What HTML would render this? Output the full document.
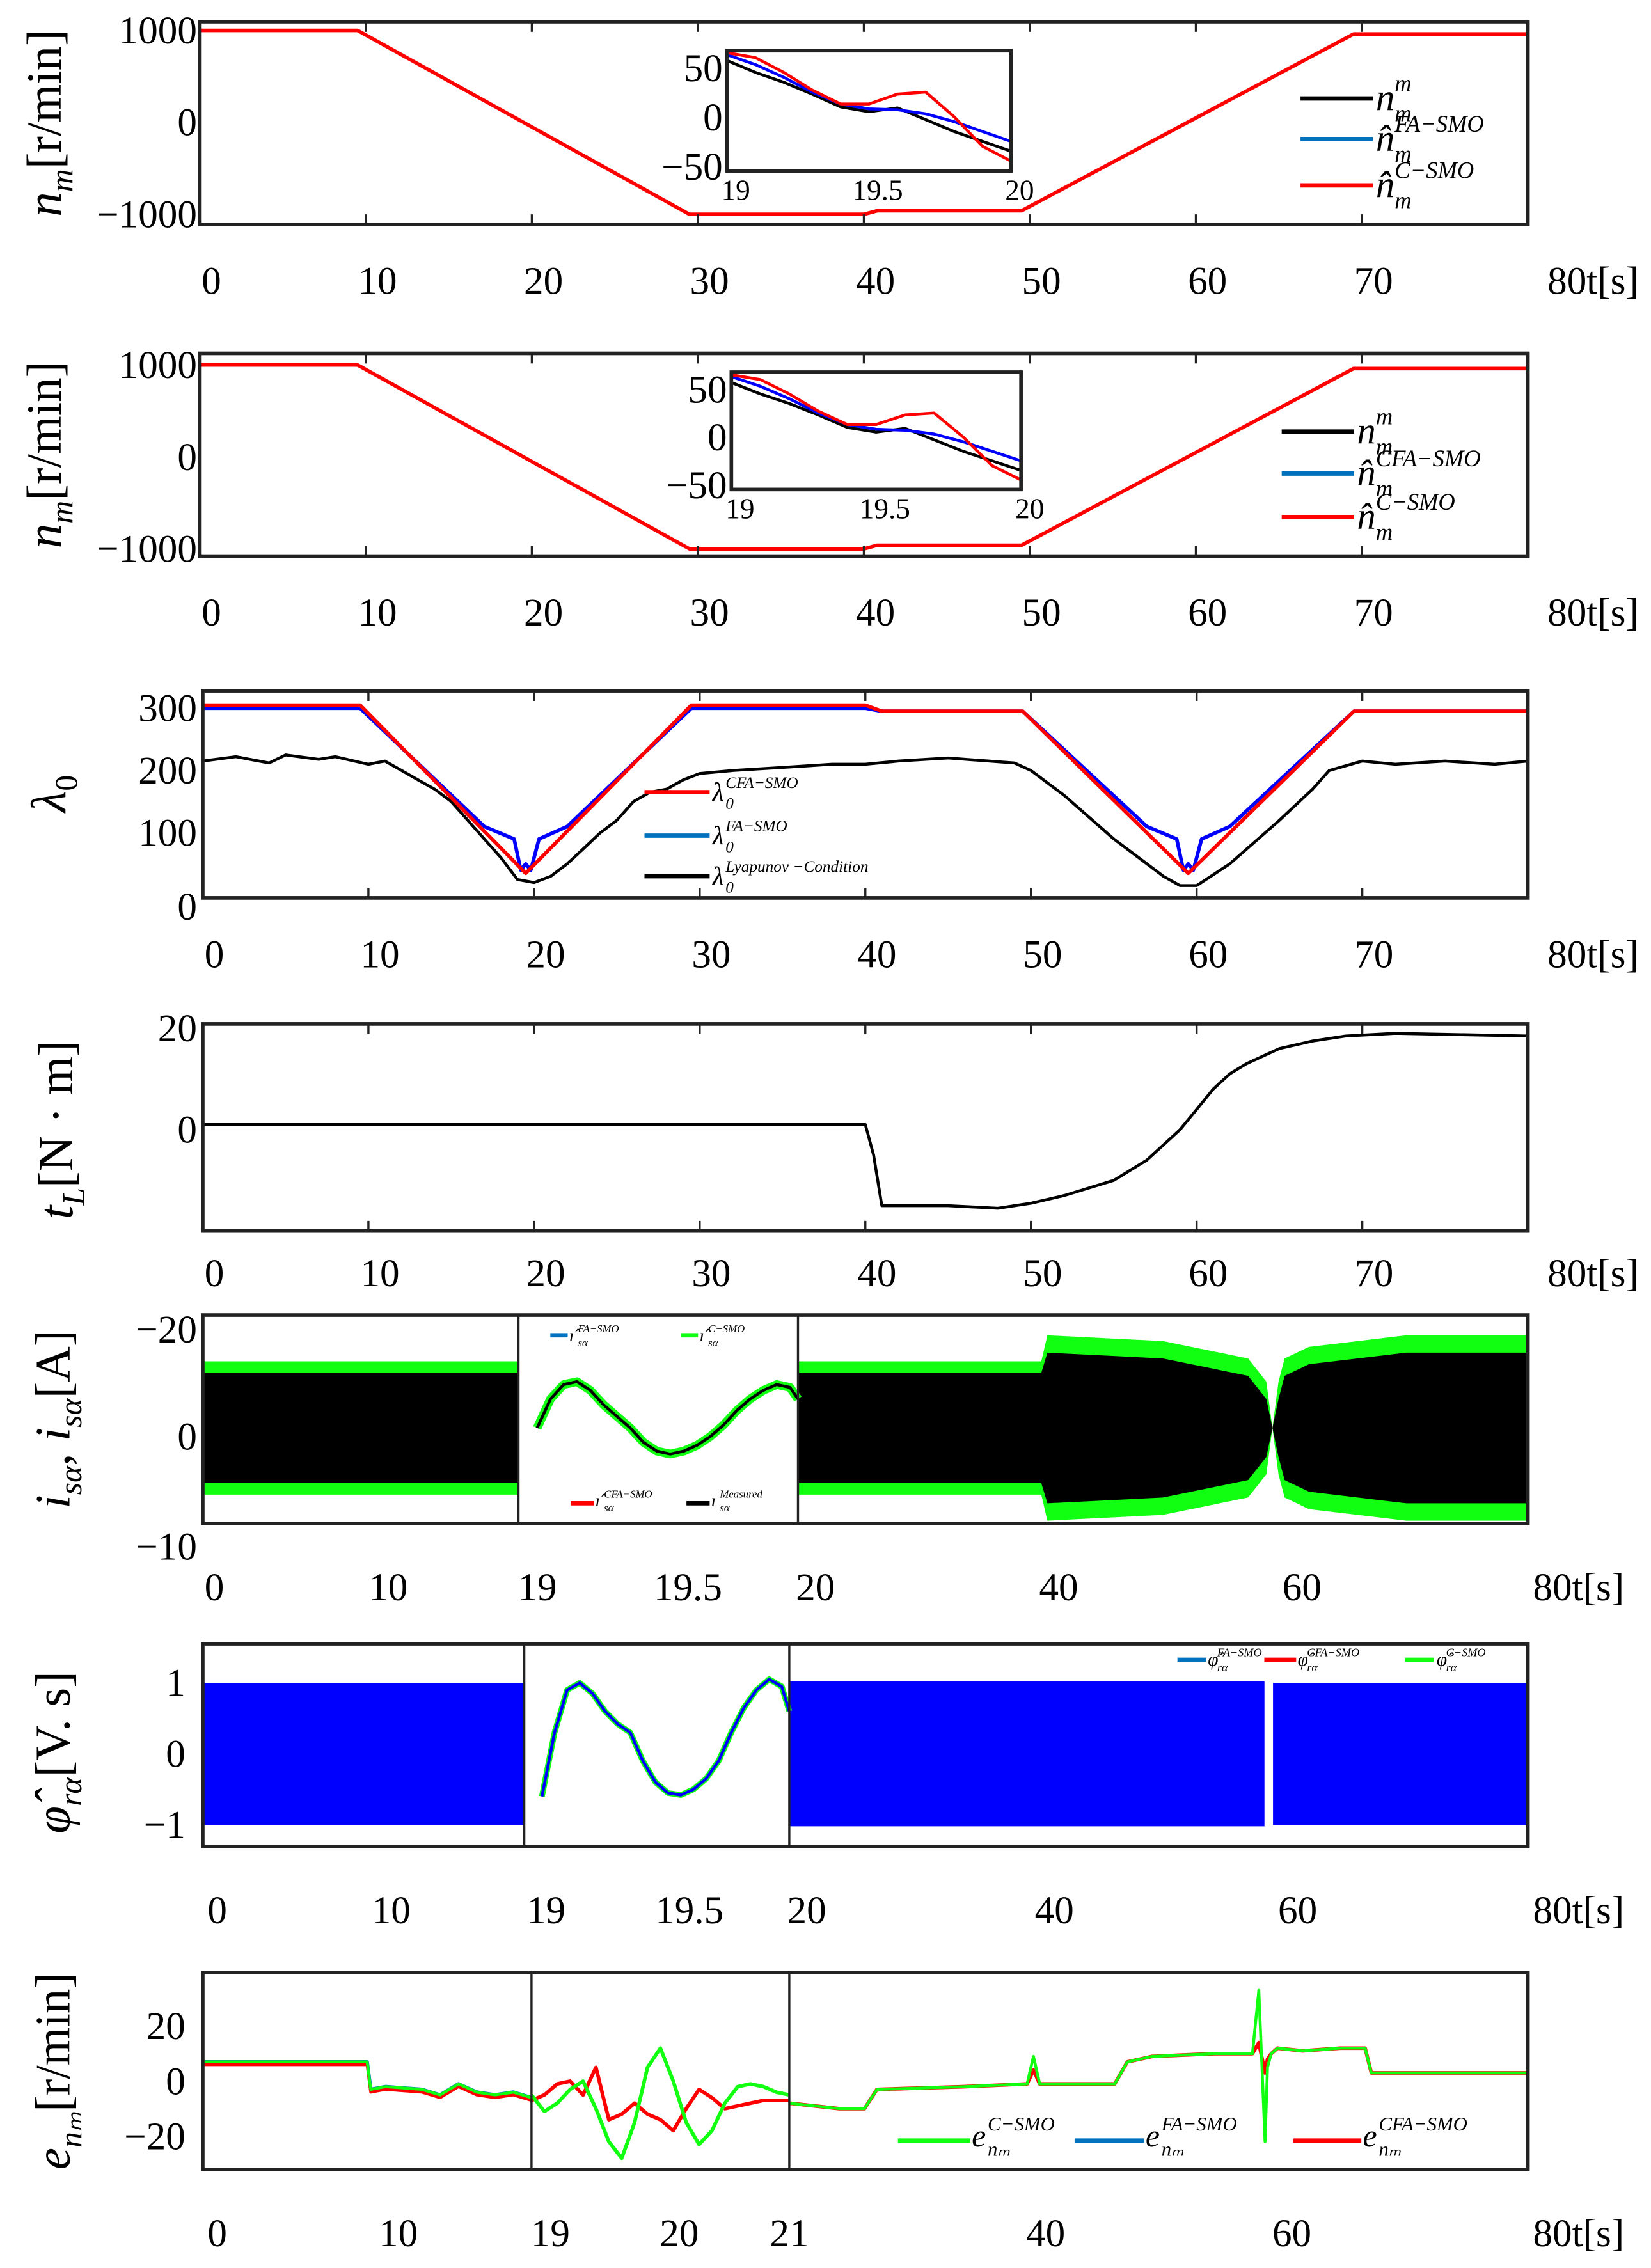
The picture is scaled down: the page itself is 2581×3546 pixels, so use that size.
<!DOCTYPE html>
<html><head><meta charset="utf-8"><style>
html,body{margin:0;padding:0;background:#fff}
svg{display:block}
text{font-family:"Liberation Serif",serif;fill:#000}
</style></head><body>
<svg id="fig" xmlns="http://www.w3.org/2000/svg" width="2581" height="3546" viewBox="0 0 1140 1566" preserveAspectRatio="none">
<g id="g"></g>
</svg>
<script>
// ---- data ----
const p1T=[0,9.5,29.5,40,40.8,49.5,69.5,80];
const p1N=[1000,1000,-1000,-1000,-960,-960,960,960];
const insT=[19,19.1,19.2,19.3,19.4,19.5,19.6,19.7,19.8,19.9,20];
const insBlack=[62,50,40,28,15,10,14,2,-10,-20,-30];
const insBlue=[68,58,45,30,18,13,12,8,0,-10,-20];
const insRed=[70,65,50,32,18,18,28,30,5,-25,-40];
const lamRedT=[0,9.5,19.5,29.5,40,41,49.5,59.5,69.5,80];
const lamRed=[305,305,35,305,305,295,295,35,295,295];
const lamBlueT=[0,9.5,17,18.8,19.2,19.5,19.8,20.3,22,29.5,40,41,49.5,57,58.8,59.2,59.5,59.8,60.3,62,69.5,80];
const lamBlue=[300,300,110,90,40,50,40,90,110,300,300,295,295,110,90,40,50,40,90,110,295,295];
const lamBlackT=[0,2,4,5,7,8,10,11,12,13,14,15,16,17,18,19,20,21,22,23,24,25,26,27,28,29,30,32,35,38,40,42,45,49,50,52,55,58,59,60,62,65,67,68,70,72,75,78,80];
const lamBlack=[215,222,212,225,218,222,210,215,200,185,170,150,120,90,60,25,20,30,50,75,100,120,150,165,170,185,195,200,205,210,210,215,220,212,200,160,90,30,15,15,50,120,170,200,215,210,215,210,215];
const tqT=[0,40,40.5,41,45,48,50,52,55,57,58,59,60,61,62,63,65,67,69,72,80];
const tq=[1,1,-5,-15,-15,-15.5,-14.5,-13,-10,-6,-3,0,4,8,11,13,16,17.5,18.5,19,18.5];
const curAmpT=[20,40,40.5,50,57,58.5,59,59.5,60,62,70,80];
const curAmpBlack=[9.5,9.5,13,12,9,5,0,5,9,11,13,13];
const curAmpGreen=[11.5,11.5,16,15,12,8,0,8,12,14,16,16];
const curMidT=[19,19.05,19.1,19.15,19.2,19.25,19.3,19.35,19.4,19.45,19.5,19.55,19.6,19.65,19.7,19.75,19.8,19.85,19.9,19.95,19.98];
const curMid=[0,5,7.5,8,6.5,4,2,0,-2.5,-4,-4.5,-4,-3,-1.5,0.5,3,5,6.5,7.5,7,5];
const fluxMidT=[19,19.05,19.1,19.15,19.2,19.25,19.3,19.35,19.4,19.45,19.5,19.55,19.6,19.65,19.7,19.75,19.8,19.85,19.9,19.95,19.98];
const fluxMid=[-0.6,0.3,0.9,1.0,0.85,0.6,0.42,0.3,-0.1,-0.4,-0.55,-0.58,-0.5,-0.35,-0.1,0.3,0.65,0.9,1.05,0.95,0.6];
const errS1T=[0,9,9.2,10,12,13,14,15,16,17,18];
const errS1=[7,7,-3,-2,-3,-5,-1,-4,-5,-4,-6];
const errS2T=[19,19.1,19.2,19.3,19.4,19.5,19.6,19.7,19.8,19.9,20,20.1,20.2,20.3,20.4,20.5,20.6,20.7,20.8,20.9,21];
const errS2Green=[-5,-11,-8,-3,0,-10,-22,-28,-15,5,12,0,-15,-23,-18,-8,-2,-1,-2,-4,-5];
const errS2Red=[-7,-5,-1,0,-5,5,-14,-12,-8,-12,-14,-18,-10,-3,-6,-10,-9,-8,-7,-7,-7];
const errS3T=[21,25,27,28,35,40,40.5,41,45,47,48,50,55,58,58.5,59,59.2,59.5,60,62,65,67,67.5,70,80];
const errS3Green=[-8,-10,-10,-3,-2,-1,9,-1,-1,-1,7,9,10,10,33,-22,5,10,12,11,12,12,3,3,3];
const errS3Red=[-8,-10,-10,-3,-2,-1,4,-1,-1,-1,7,9,10,10,14,3,8,10,12,11,12,12,3,3,3];

// ---- helpers ----
const NS="http://www.w3.org/2000/svg";const G=document.getElementById('g');
function el(tag,a,parent){const e=document.createElementNS(NS,tag);for(const k in a)e.setAttribute(k,a[k]);(parent||G).appendChild(e);return e;}
function sc(d0,d1,r0,r1){return v=>r0+(v-d0)/(d1-d0)*(r1-r0);}
function line(xs,ys,X,Y,color,w,name){
 const pts=xs.map((t,i)=>X(t).toFixed(1)+','+Y(ys[i]).toFixed(1)).join(' ');
 const p=el('polyline',{points:pts,fill:'none',stroke:color,'stroke-width':w,'stroke-linejoin':'round'});
 
 return p;}
function band(xs,amps,X,Y,color,name){
 const top=xs.map((t,i)=>X(t).toFixed(1)+','+Y(amps[i]).toFixed(1));
 const bot=xs.map((t,i)=>X(t).toFixed(1)+','+Y(-amps[i]).toFixed(1)).reverse();
 const p=el('polygon',{points:top.concat(bot).join(' '),fill:color});
 
 return p;}
function txt(x,y,s,size,name,anchor){const t=el('text',{x:x,y:y,'font-size':size,'text-anchor':anchor||'middle'});t.textContent=s;
 
 return t;}
function box(x0,y0,x1,y1,name){const r=el('rect',{x:x0,y:y0,width:x1-x0,height:y1-y0,fill:'none',stroke:'#222','stroke-width':2.5});
 
 }
function vline(x,y0,y1,name,w){const l=el('line',{x1:x,x2:x,y1:y0,y2:y1,stroke:'#222','stroke-width':w||1.5});
 
 }
function xticks(labels,xs,y,yb,tick){labels.forEach((s,i)=>{txt(xs[i],y,s,27,'x-tick-label');
 if(tick)vline(xs[i],yb-7,yb,'x-tick');});}
function ylabels(labels,ys,x){labels.forEach((s,i)=>txt(x,ys[i]+9,s,27,'y-tick-label','end'));}
function ytitle(x,y,html,name){const t=el('text',{transform:`translate(${x},${y}) rotate(-90)`,'font-size':34,'text-anchor':'middle'});t.innerHTML=html;
 
 }
function legLine(x0,x1,y,c,name){const l=el('line',{x1:x0,x2:x1,y1:y,y2:y,stroke:c,'stroke-width':3});
 
 }
function legText(x,y,main,sup,sub,size,name){
 const g=el('g',{});
 
 
 const w=size*0.5*(main.length>1?1:1);
 const a=el('text',{x:x,y:y,'font-size':size,'font-style':'italic'},g);a.textContent=main;
 const b=el('text',{x:x+w,y:y-size*0.5,'font-size':size*0.62,'font-style':'italic'},g);b.textContent=sup;
 const c=el('text',{x:x+w,y:y+size*0.3,'font-size':size*0.62,'font-style':'italic'},g);c.textContent=sub;}

const tickVals=[0,10,20,30,40,50,60,70,80];
const tickLab=['0','10','20','30','40','50','60','70','80t[s]'];

// ---- panels 1 & 2: speed ----
function speedPanel(y0,y1,yTop,yBot,ins,leg,legName,pid){
 const X=sc(0,80,138,1055),Y=sc(1000,-1000,yTop,yBot);
 line(p1T,p1N,X,Y,'#000',2,pid+'-measured-speed');
 line(p1T,p1N,X,Y,'#0072bd',2,pid+'-fa-smo-speed');
 line(p1T,p1N,X,Y,'#f00',2.5,pid+'-c-smo-speed');
 box(138,y0,1055,y1,pid+'-axes');
 [10,20,30,40,50,60,70].forEach(v=>{vline(X(v),y1-7,y1,'x-tick');vline(X(v),y0,y0+7,'x-tick');});
 ylabels(['1000','0','\u22121000'],[Y(1000),Y(0),Y(-1000)],136);
 xticks(tickLab.map(s=>s),tickVals.map(v=>v==80?X(80)+45:X(v)+8),y1+48,y1,false);
 const IX=sc(19,20,ins[0],ins[1]),IY=sc(50,-50,ins[2]+15,ins[3]);
 el('rect',{x:ins[0],y:ins[2],width:ins[1]-ins[0],height:ins[3]-ins[2],fill:'#fff'});
 line(insT,insBlack,IX,IY,'#000',2,pid+'-inset-measured');
 line(insT,insBlue,IX,IY,'#00f',2,pid+'-inset-fa');
 line(insT,insRed,IX,IY,'#f00',2,pid+'-inset-c');
 box(ins[0],ins[2],ins[1],ins[3],pid+'-inset-axes');
 ylabels(['50','0','\u221250'],[IY(50),IY(0),IY(-50)].map(v=>v-3),ins[0]-3);
 [['19',19],['19.5',19.5],['20',20]].forEach(a=>txt(IX(a[1])+6,ins[3]+20,a[0],20,'inset-x-tick-label'));
 legLine(leg[0],leg[0]+50,leg[1],'#000',pid+'-legend-measured');
 legLine(leg[0],leg[0]+50,leg[2],'#0072bd',pid+'-legend-fa');
 legLine(leg[0],leg[0]+50,leg[3],'#f00',pid+'-legend-c');
 legText(leg[0]+52,leg[1]+8,'n','m','m',26,pid+'-legend-measured-label');
 legText(leg[0]+52,leg[2]+8,'n\u0302',legName,'m',26,pid+'-legend-fa-label');
 legText(leg[0]+52,leg[3]+8,'n\u0302','C\u2212SMO','m',26,pid+'-legend-c-label');
 ytitle(42,(y0+y1)/2,'<tspan font-style="italic">n</tspan><tspan font-size="22" font-style="italic" dy="8">m</tspan><tspan dy="-8">[r/min]</tspan>',pid+'-y-axis-title');
}
speedPanel(15,155,21,148,[502,698,35,118],[898,68,96,128],'FA\u2212SMO','speed1');
speedPanel(244,384,252,379,[505,705,257,338],[885,298,327,357],'CFA\u2212SMO','speed2');

// ---- panel 3: lambda ----
(function(){
 const X=sc(0,80,140,1055),Y=sc(0,300,618,489);
 line(lamBlackT,lamBlack,X,Y,'#000',2,'lambda-lyapunov');
 line(lamBlueT,lamBlue,X,Y,'#00f',2.5,'lambda-fa-smo');
 line(lamRedT,lamRed,X,Y,'#f00',2.5,'lambda-cfa-smo');
 box(140,477,1055,620,'lambda-axes');
 [10,20,30,40,50,60,70].forEach(v=>{vline(X(v),613,620,'x-tick');vline(X(v),477,484,'x-tick');});
 ylabels(['300','200','100','0'],[Y(300),Y(200),Y(100),Y(0)+8],136);
 xticks(tickLab,tickVals.map(v=>v==80?X(80)+45:X(v)+8),668,620,false);
 legLine(445,490,547,'#f00','legend-cfa');legLine(445,490,577,'#0072bd','legend-fa');legLine(445,490,605,'#000','legend-lyapunov');
 legText(492,553,'\u03bb','CFA\u2212SMO','0',18,'legend-cfa-label');
 legText(492,583,'\u03bb','FA\u2212SMO','0',18,'legend-fa-label');
 legText(492,611,'\u03bb','Lyapunov \u2212Condition','0',18,'legend-lyapunov-label');
 ytitle(45,548,'<tspan font-style="italic">\u03bb</tspan><tspan font-size="22" dy="8">0</tspan>','lambda-y-axis-title');
})();

// ---- panel 4: torque ----
(function(){
 const X=sc(0,80,140,1055),Y=sc(0,20,780,710);
 line(tqT,tq,X,Y,'#000',2,'load-torque');
 box(140,707,1055,850,'torque-axes');
 [10,20,30,40,50,60,70].forEach(v=>{vline(X(v),843,850,'x-tick');vline(X(v),707,714,'x-tick');});
 ylabels(['20','0'],[Y(20),Y(0)],136);
 xticks(tickLab,tickVals.map(v=>v==80?X(80)+45:X(v)+8),888,850,false);
 ytitle(50,780,'<tspan font-style="italic">t</tspan><tspan font-size="22" font-style="italic" dy="8">L</tspan><tspan dy="-8">[N \u00b7 m]</tspan>','torque-y-axis-title');
})();

// ---- panel 5: current ----
(function(){
 const Y=v=>986-v*4;
 const X1=sc(0,18.2,140,358),X2=sc(18.93,19.98,358,551),X3=sc(20,80,551,1055);
 band([0,18.2],[11.5,11.5],X1,Y,'#1f1','current-seg1-green');
 band([0,18.2],[9.5,9.5],X1,Y,'#000','current-seg1-measured');
 band(curAmpT,curAmpGreen,X3,Y,'#1f1','current-seg3-green');
 band(curAmpT,curAmpBlack,X3,Y,'#000','current-seg3-measured');
 line(curMidT,curMid,X2,Y,'#1f1',6,'current-mid-green');
 line(curMidT,curMid,X2,Y,'#000',2,'current-mid-measured');
 box(140,908,1055,1052,'current-axes');vline(358,908,1052,'divider');vline(551,908,1052,'divider');
 ylabels(['\u221220','0','\u221210'],[918,992,1068],136);
 [['0',148],['10',268],['19',371],['19.5',475],['20',563],['40',731],['60',899]].forEach(a=>txt(a[1],1105,a[0],27,'x-tick-label'));
 txt(1090,1105,'80t[s]',27,'x-tick-label');
 legLine(380,392,922,'#0072bd','legend-fa');legLine(470,482,922,'#1f1','legend-c');
 legText(393,926,'\u0131\u0302','FA\u2212SMO','s\u03b1',12,'legend-fa-label');
 legText(483,926,'\u0131\u0302','C\u2212SMO','s\u03b1',12,'legend-c-label');
 legLine(394,410,1038,'#f00','legend-cfa');legLine(474,490,1038,'#000','legend-measured');
 legText(411,1040,'\u0131\u0302','CFA\u2212SMO','s\u03b1',12,'legend-cfa-label');
 legText(491,1040,'\u0131','Measured','s\u03b1',12,'legend-measured-label');
 ytitle(48,980,'<tspan font-style="italic">i</tspan><tspan font-size="22" font-style="italic" dy="8">s\u03b1</tspan><tspan dy="-8">, </tspan><tspan font-style="italic">i</tspan><tspan font-size="22" font-style="italic" dy="8">s\u03b1</tspan><tspan dy="-8">[A]</tspan>','current-y-axis-title');
})();

// ---- panel 6: flux ----
(function(){
 const Y=v=>1211-v*49;
 const X1=sc(0,18.2,140,362),X2=sc(18.93,19.98,362,545),X3=sc(20,80,545,1055);
 band([0,18.2],[1.0,1.0],X1,Y,'#00f','flux-seg1');
 band([20,58.5,58.6],[1.02,1.02,1.02],X3,Y,'#00f','flux-seg3a');
 band([59.3,80],[1.0,1.0],X3,Y,'#00f','flux-seg3b');
 line(fluxMidT,fluxMid,X2,Y,'#1f1',4,'flux-mid-green');
 line(fluxMidT,fluxMid,X2,Y,'#00f',2,'flux-mid-fa');
 box(140,1135,1055,1275,'flux-axes');vline(362,1135,1275,'divider');vline(545,1135,1275,'divider');
 ylabels(['1','0','\u22121'],[Y(1),Y(0),Y(-1)],128);
 [['0',150],['10',270],['19',377],['19.5',476],['20',557],['40',728],['60',896]].forEach(a=>txt(a[1],1328,a[0],27,'x-tick-label'));
 txt(1090,1328,'80t[s]',27,'x-tick-label');
 legLine(813,833,1146,'#0072bd','legend-fa');legLine(873,895,1146,'#f00','legend-cfa');legLine(970,990,1146,'#1f1','legend-c');
 legText(834,1150,'\u03c6\u0302','FA\u2212SMO','r\u03b1',13,'legend-fa-label');
 legText(896,1150,'\u03c6\u0302','CFA\u2212SMO','r\u03b1',13,'legend-cfa-label');
 legText(992,1150,'\u03c6\u0302','C\u2212SMO','r\u03b1',13,'legend-c-label');
 ytitle(48,1210,'<tspan font-style="italic">\u03c6\u0302</tspan><tspan font-size="22" font-style="italic" dy="8">r\u03b1</tspan><tspan dy="-8">[V. s]</tspan>','flux-y-axis-title');
})();

// ---- panel 7: speed error ----
(function(){
 const Y=v=>1437-v*1.9;
 const X1=sc(0,18,140,367),X2=sc(19,21,367,545),X3=sc(21,80,545,1055);
 line(errS1T,errS1,X1,Y,'#0072bd',2.5,'error-seg1-fa');
 line(errS1T,errS1.map(v=>v-1),X1,Y,'#f00',2,'error-seg1-cfa');
 line(errS1T,errS1,X1,Y,'#1f1',2,'error-seg1-c');
 line(errS2T,errS2Red,X2,Y,'#f00',2.5,'error-seg2-cfa');
 line(errS2T,errS2Green,X2,Y,'#1f1',2.5,'error-seg2-c');
 line(errS3T,errS3Red,X3,Y,'#f00',2.5,'error-seg3-cfa');
 line(errS3T,errS3Green,X3,Y,'#1f1',2,'error-seg3-c');
 box(140,1362,1055,1498,'error-axes');vline(367,1362,1498,'divider');vline(545,1362,1498,'divider');
 ylabels(['20','0','\u221220'],[Y(20),Y(0),Y(-20)],128);
 [['0',150],['10',275],['19',380],['20',469],['21',545],['40',722],['60',892]].forEach(a=>txt(a[1],1551,a[0],27,'x-tick-label'));
 txt(1090,1551,'80t[s]',27,'x-tick-label');
 legLine(620,670,1478,'#1f1','legend-c');legLine(742,790,1478,'#0072bd','legend-fa');legLine(893,940,1478,'#f00','legend-cfa');
 legText(671,1482,'e','C\u2212SMO','n\u2098',22,'legend-c-label');
 legText(791,1482,'e','FA\u2212SMO','n\u2098',22,'legend-fa-label');
 legText(941,1482,'e','CFA\u2212SMO','n\u2098',22,'legend-cfa-label');
 ytitle(48,1430,'<tspan font-style="italic">e</tspan><tspan font-size="22" font-style="italic" dy="8">n\u2098</tspan><tspan dy="-8">[r/min]</tspan>','error-y-axis-title');
})();
</script>
</body></html>
